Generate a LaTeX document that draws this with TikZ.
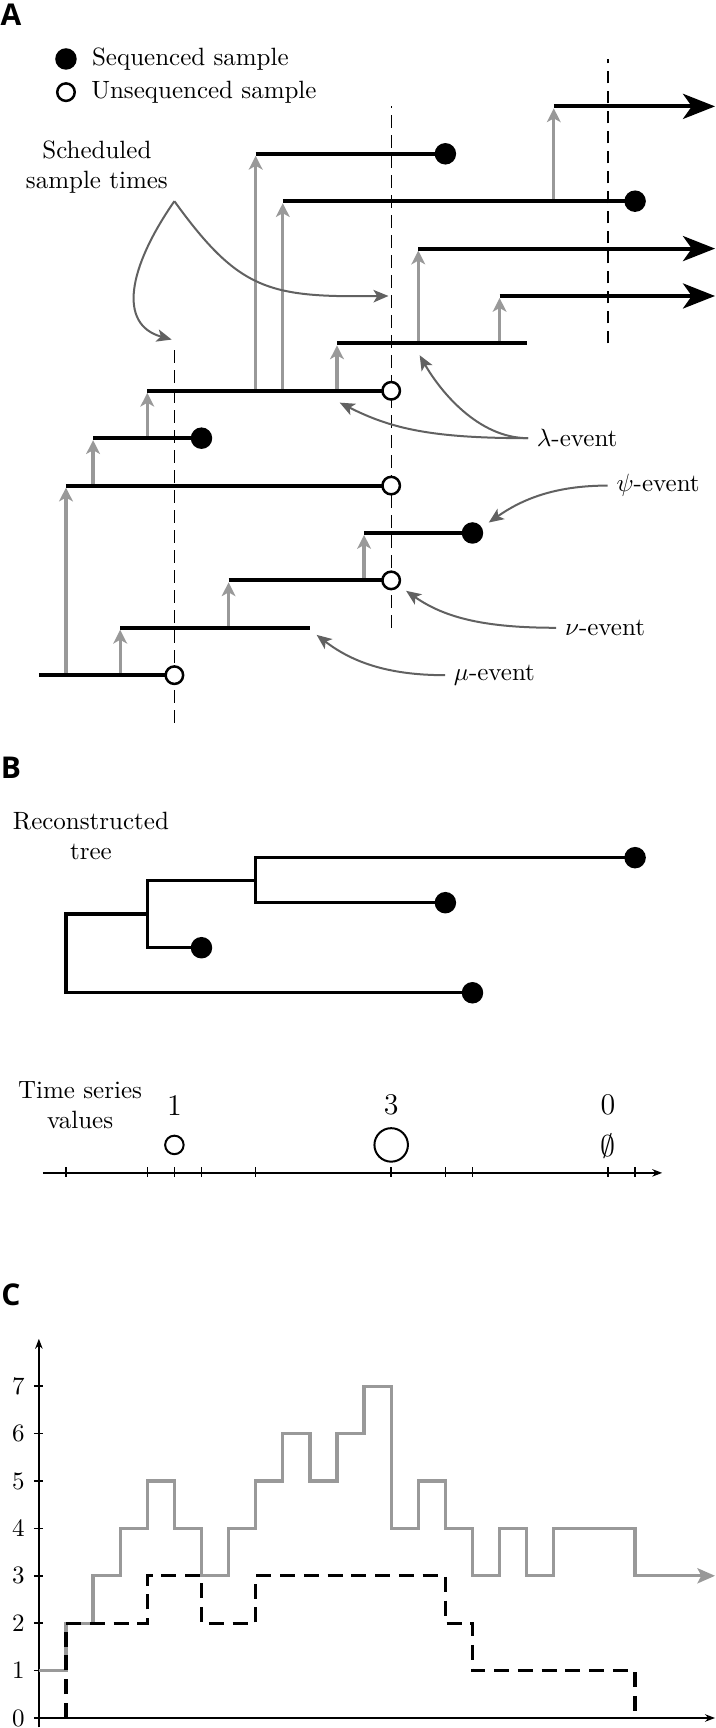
\documentclass[tikz,border=0pt]{standalone}
\usepackage{fontspec}
\newfontfamily\panelfont{Open Sans}
\usetikzlibrary{arrows.meta,positioning}
\definecolor{birthgray}{gray}{0.6}
\definecolor{notegray}{gray}{0.38}
\tikzset{
  panel/.style={font=\panelfont\bfseries\large},
  lin/.style={line width=1.6pt},
  far/.style={lin,-{Stealth[length=12.8pt,width=10pt,inset=3.5pt]}},
  birth/.style={birthgray,line width=1.3pt,shorten >=0.8pt,-{Stealth[length=5.5pt,width=5.5pt,inset=1.5pt]}},
  seq/.style={circle,fill=black,inner sep=0pt,minimum size=8.6pt},
  unseq/.style={circle,draw=black,fill=white,line width=1pt,inner sep=0pt,minimum size=7pt},
  sched/.style={dash pattern=on 5pt off 3pt,line width=0.5pt},
  note/.style={notegray,line width=0.8pt,-{Stealth[length=6pt,width=5pt,inset=1.5pt]}},
  tree/.style={line width=1.3pt},
  axis/.style={line width=0.6pt},
  count/.style={birthgray,line width=1.3pt},
  recon/.style={line width=1.3pt,dash pattern=on 6pt off 3.5pt},
}
\begin{document}
\begin{tikzpicture}[x=10.84pt,y=18.96pt]
\useasboundingbox (-2.435,-0.211) rectangle (23.985,36.245);

% A: lineages
\node[panel] (pa) at (-2.03,35.93) {A};
\node[seq] (k1) at (0,35) {};
\node[unseq] (k2) at (0,34.3) {};
\node[right=2.4pt of k1] (k1t) {Sequenced sample};
\node[right=2.6pt of k2] (k2t) {Unsequenced sample};

\draw[sched] (4,21) -- (4,29);
\draw[sched] (12,23) -- (12,34);
\draw[sched] (20,29) -- (20,35);

\foreach \x/\p/\c in {2/0/1,0/0/4,6/1/2,11/2/3,1/4/5,3/5/6,10/6/7,8/6/10,7/6/11,13/7/9,16/7/8,18/10/12}
  \draw[birth] (\x,{22+\p}) -- (\x,{22+\c});

\foreach \l/\a/\b in {0/-1/4,1/2/9,2/6/12,3/11/15,4/0/12,5/1/5,6/3/12,7/10/17,10/8/21,11/7/14}
  \draw[lin] (\a,{22+\l}) -- (\b,{22+\l});
\draw[far] (16,30) -- (23.95,30);
\draw[far] (13,31) -- (23.95,31);
\draw[far] (18,34) -- (23.95,34);

\foreach \l/\b in {0/4,2/12,4/12,6/12}
  \node[unseq] (u\l) at (\b,{22+\l}) {};
\foreach \l/\b in {3/15,5/5,10/21,11/14}
  \node[seq] (s\l) at (\b,{22+\l}) {};

% notes
\node[align=center] (sch) at (1.14,32.71) {Scheduled\\sample times};
\coordinate (pk) at (4,32);
\coordinate (d1) at (3.9,29.08);
\coordinate (d2) at (11.9,30);
\draw[note] (pk) .. controls (2.3,30.6) and (1.9,29.4) .. (d1);
\draw[note] (pk) .. controls (6.4,30.1) and (7.5,29.97) .. (d2);

\node[anchor=west] (lam) at (17.05,27) {$\lambda$-event};
\node[anchor=west] (psi) at (19.99,26) {$\psi$-event};
\node[anchor=west] (nu) at (18.09,23) {$\nu$-event};
\node[anchor=west] (mu) at (13.99,22) {$\mu$-event};
\coordinate (l1) at (10.1,27.75);
\coordinate (l2) at (13.05,28.75);
\draw[note] (lam.west) .. controls (13.5,27) and (12,27.2) .. (l1);
\draw[note] (lam.west) .. controls (15.2,27) and (13.8,28) .. (l2);
\draw[note] (psi.west) .. controls (18,26) and (16.8,25.7) .. (15.6,25.22);
\draw[note] (nu.west) .. controls (15.5,23) and (14,23.2) .. (12.55,23.78);
\draw[note] (mu.west) .. controls (11.8,22) and (10.5,22.3) .. (9.25,22.85);

% B: reconstructed tree
\node[panel] (pb) at (-2.03,20.04) {B};
\node[align=center] (rt) at (0.92,18.6) {Reconstructed\\tree};
\coordinate (r) at (0,16.13);
\coordinate (n3) at (3,16.96);
\coordinate (n7) at (7,17.675);
\node[seq] (t21) at (21,18.15) {};
\node[seq] (t14) at (14,17.2) {};
\node[seq] (t5) at (5,16.25) {};
\node[seq] (t15) at (15,15.3) {};
\draw[tree] (t21.center) -| (n7) |- (t14.center);
\draw[tree] (n7) -| (n3) |- (t5.center);
\draw[tree] (n3) -| (r) |- (t15.center);

\node[align=center] (tsv) at (0.52,12.93) {Time series\\values};
\node[font=\large] (v1) at (4,12.93) {1};
\node[font=\large] (v3) at (12,12.93) {3};
\node[font=\large] (v0) at (20,12.93) {0};
\node[circle,draw,line width=0.8pt,minimum size=7.4pt,inner sep=0pt] (c1) at (4,12.09) {};
\node[circle,draw,line width=0.8pt,minimum size=13.4pt,inner sep=0pt] (c3) at (12,12.09) {};
\node[font=\large,inner sep=0pt] (c0) at (20,12.07) {$\emptyset$};
\draw[axis,-{Stealth[length=4pt,width=3pt]}] (-0.85,11.5) -- (22,11.5);
\foreach \t in {0,3,4,5,7,12,14,15,20,21}
  \draw[axis] (\t,11.5) ++(0,-1.5pt) -- ++(0,4pt);

% C: lineage counts
\node[panel] (pc) at (-2.03,8.92) {C};
\draw[axis,-{Stealth[length=4pt,width=3pt]}] (-1,-0.2) -- (-1,8);
\draw[axis,-{Stealth[length=4pt,width=3pt]}] (-1,0) -- (23.95,0);
\foreach \k in {0,...,7}{
  \draw[axis] (-1,\k) ++(-2pt,0) -- ++(3.8pt,0);
  \node[anchor=east] (y\k) at (-1.2,\k) {\k};
}
\draw[count,-{Stealth[length=7pt,width=6pt,inset=1.5pt]}] (-1,1) -| (0,2) -| (1,3) -| (2,4) -| (3,5) -| (4,4) -| (5,3) -| (6,4) -| (7,5) -| (8,6) -| (9,5) -| (10,6) -| (11,7) -| (12,4) -| (13,5) -| (14,4) -| (15,3) -| (16,4) -| (17,3) -| (18,4) -| (21,3) -- (23.95,3);
\draw[recon] (0,0) -- (0,2) -| (3,3) -| (5,2) -| (7,3) -| (14,2) -| (15,1) -| (21,0);
\end{tikzpicture}
\end{document}
